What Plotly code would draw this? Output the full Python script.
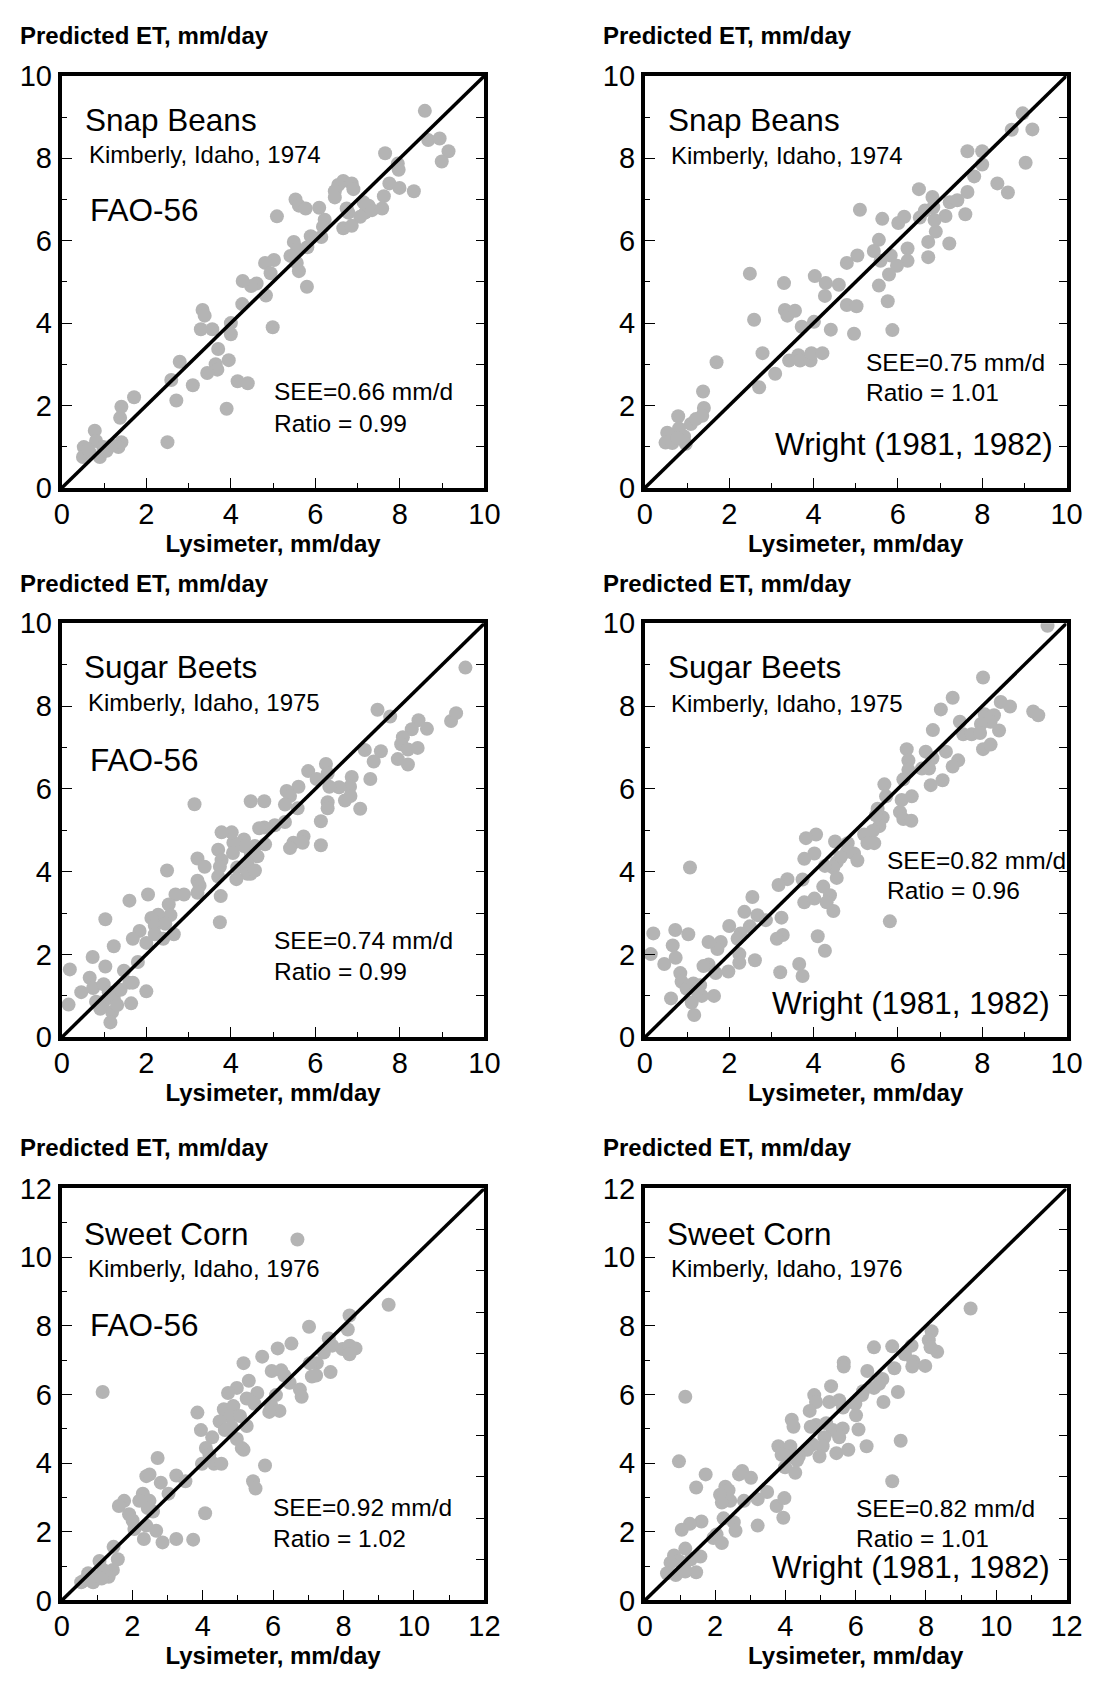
import plotly.graph_objects as go

FONT = "Liberation Sans"
GRAY = "#b4b4b4"

# ---------------- data (Lysimeter ET, Predicted ET), mm/day ----------------
snap_fao_x = [8.59, 8.67, 8.94, 9.15, 8.99, 7.65, 7.95, 7.97, 7.75, 7.99, 8.33, 7.62, 7.58, 7.34, 7.18, 7.06, 7.26, 7.14, 6.66, 6.54, 6.86, 6.90, 6.46, 6.46, 6.74, 6.78, 6.66, 6.86, 6.09, 6.22, 6.18, 6.14, 5.89, 5.81, 5.53, 5.61, 5.77, 5.09, 5.49, 5.57, 5.41, 5.56, 5.61, 5.80, 5.02, 4.81, 4.94, 4.83, 4.99, 4.61, 4.48, 4.28, 4.27, 4.00, 4.00, 3.95, 3.33, 3.38, 3.29, 3.56, 3.70, 3.64, 3.68, 3.44, 4.16, 4.40, 3.90, 2.79, 2.59, 3.10, 2.71, 2.50, 1.71, 1.41, 1.38, 1.41, 1.34, 0.78, 0.81, 0.52, 0.50, 0.66, 0.90, 1.06, 1.18, 0.62, 0.98]
snap_fao_y = [9.15, 8.44, 8.48, 8.17, 7.92, 8.12, 7.87, 7.72, 7.39, 7.28, 7.20, 7.08, 6.78, 6.74, 6.68, 6.58, 6.85, 6.93, 7.45, 7.35, 7.39, 7.25, 7.20, 7.05, 6.78, 6.68, 6.30, 6.36, 6.80, 6.51, 6.34, 6.09, 6.11, 5.84, 7.00, 6.85, 6.78, 6.59, 5.97, 5.80, 5.63, 5.46, 5.26, 4.88, 5.53, 5.46, 5.21, 4.67, 3.90, 4.96, 4.90, 5.02, 4.46, 4.00, 3.73, 3.10, 4.32, 4.18, 3.85, 3.85, 3.37, 3.00, 2.87, 2.79, 2.59, 2.54, 1.92, 3.06, 2.62, 2.49, 2.12, 1.11, 2.20, 1.97, 1.70, 1.11, 0.99, 1.39, 1.14, 0.99, 0.75, 0.86, 0.75, 0.90, 1.03, 0.95, 0.99]

snap_wr_x = [8.96, 8.70, 9.19, 9.03, 7.65, 8.00, 8.00, 7.81, 7.65, 7.60, 8.36, 8.61, 6.50, 6.82, 6.84, 7.23, 7.41, 7.13, 6.87, 6.90, 6.72, 6.72, 7.22, 6.64, 6.52, 6.15, 6.01, 6.23, 6.23, 5.98, 5.83, 5.79, 5.76, 5.87, 5.63, 5.10, 5.55, 5.43, 5.59, 5.55, 5.04, 4.79, 4.60, 4.29, 4.27, 4.03, 4.79, 5.02, 4.96, 4.41, 4.01, 3.72, 3.30, 3.32, 3.38, 3.56, 2.59, 2.49, 3.42, 3.64, 3.68, 3.93, 3.95, 4.21, 3.09, 2.79, 2.71, 1.70, 1.38, 1.40, 1.36, 1.09, 0.79, 0.81, 0.53, 0.49, 0.65, 0.93, 0.97, 0.77, 1.21]
snap_wr_y = [9.09, 8.69, 8.70, 7.89, 8.17, 8.17, 7.85, 7.56, 7.18, 6.64, 7.39, 7.17, 7.25, 7.06, 6.81, 6.93, 6.98, 6.60, 6.50, 6.22, 5.97, 5.60, 5.93, 6.73, 6.56, 6.58, 6.43, 5.81, 5.51, 5.39, 5.64, 5.18, 4.53, 3.83, 6.53, 6.75, 6.02, 5.75, 5.51, 4.91, 5.64, 5.46, 4.93, 4.97, 4.66, 5.14, 4.44, 4.41, 3.74, 3.84, 4.03, 3.91, 4.97, 4.32, 4.18, 4.30, 4.08, 5.20, 3.09, 3.22, 3.09, 3.09, 3.27, 3.27, 2.77, 3.27, 2.44, 3.05, 2.34, 1.94, 1.75, 1.55, 1.74, 1.44, 1.34, 1.10, 1.09, 1.25, 1.07, 1.21, 1.67]

beet_fao_x = [9.55, 7.47, 7.77, 9.21, 9.33, 8.44, 8.64, 8.28, 8.07, 8.03, 8.19, 8.42, 7.95, 8.19, 7.55, 7.17, 7.38, 7.30, 7.06, 6.86, 6.82, 6.83, 6.70, 6.56, 6.25, 6.29, 6.33, 6.29, 6.29, 6.13, 6.13, 5.83, 6.03, 5.60, 5.32, 5.40, 5.58, 5.28, 5.28, 5.04, 4.79, 4.67, 4.47, 4.79, 5.72, 5.48, 5.70, 5.40, 4.81, 4.57, 4.47, 4.63, 4.31, 4.31, 4.06, 4.02, 3.78, 3.70, 3.78, 3.74, 4.05, 4.15, 4.39, 4.47, 4.39, 4.57, 4.13, 3.70, 3.76, 3.74, 3.21, 3.38, 3.14, 3.21, 3.26, 3.21, 2.49, 2.89, 2.69, 2.04, 1.60, 2.53, 2.57, 2.28, 2.12, 2.20, 2.45, 2.65, 2.20, 2.40, 1.84, 1.68, 2.00, 1.23, 1.80, 1.03, 0.73, 1.03, 0.19, 0.66, 0.46, 0.74, 0.99, 1.11, 1.23, 1.47, 1.60, 1.39, 1.68, 2.00, 1.64, 0.81, 0.99, 1.19, 1.15, 0.16, 1.31, 0.91]
beet_fao_y = [8.93, 7.91, 7.75, 7.64, 7.83, 7.66, 7.45, 7.44, 7.25, 7.08, 6.95, 6.99, 6.72, 6.59, 6.91, 6.94, 6.66, 6.24, 5.52, 6.29, 6.05, 5.83, 5.72, 6.04, 6.60, 6.37, 6.05, 5.68, 5.53, 5.22, 4.64, 6.43, 6.24, 6.05, 5.95, 5.83, 5.53, 5.62, 5.20, 5.12, 5.07, 5.05, 5.70, 5.70, 4.85, 4.70, 4.70, 4.57, 4.66, 4.62, 4.45, 4.37, 4.78, 4.62, 4.70, 4.95, 4.95, 4.53, 4.28, 4.12, 4.45, 4.10, 4.20, 3.95, 3.95, 4.03, 3.82, 3.88, 3.41, 2.78, 4.32, 4.12, 5.63, 3.78, 3.66, 3.49, 4.03, 3.45, 3.45, 3.45, 3.30, 3.21, 2.95, 2.96, 2.88, 2.70, 2.74, 2.49, 2.49, 2.38, 2.57, 2.38, 2.28, 2.20, 1.82, 2.85, 1.94, 1.71, 1.64, 1.44, 1.09, 1.19, 1.28, 1.09, 0.94, 1.61, 1.32, 1.15, 1.32, 1.11, 0.82, 0.86, 0.86, 0.61, 0.36, 0.79, 0.78, 0.69]

beet_wr_x = [9.55, 8.02, 7.30, 7.02, 8.44, 8.66, 9.21, 9.33, 8.06, 8.28, 8.20, 8.40, 7.97, 7.47, 7.55, 7.75, 7.95, 6.83, 8.02, 8.20, 7.14, 6.66, 6.82, 7.43, 7.30, 6.74, 6.57, 6.21, 6.25, 6.25, 7.06, 6.78, 6.13, 6.09, 6.33, 6.05, 6.13, 6.32, 5.68, 5.72, 5.52, 5.64, 5.56, 5.40, 5.20, 5.28, 5.44, 5.48, 4.96, 5.04, 4.81, 4.79, 4.51, 4.64, 4.55, 4.47, 4.55, 4.27, 4.06, 3.82, 4.02, 3.78, 3.74, 4.23, 4.39, 4.31, 4.47, 3.78, 4.02, 4.10, 4.27, 5.81, 3.38, 3.17, 3.24, 3.27, 3.13, 2.87, 2.67, 2.55, 2.36, 2.49, 2.27, 2.00, 2.20, 2.24, 2.24, 2.61, 3.21, 3.66, 3.74, 1.98, 1.80, 1.72, 1.51, 1.51, 1.68, 1.39, 1.64, 1.35, 1.07, 0.72, 1.03, 0.20, 0.14, 0.46, 0.66, 0.73, 0.84, 0.87, 0.62, 0.99, 1.15, 1.23, 1.11, 1.17, 1.31]
beet_wr_y = [9.94, 8.69, 8.20, 7.92, 8.10, 7.99, 7.87, 7.78, 7.80, 7.78, 7.62, 7.41, 7.57, 7.62, 7.32, 7.32, 7.35, 7.42, 6.96, 7.07, 6.90, 6.90, 6.74, 6.69, 6.54, 6.49, 6.49, 6.96, 6.69, 6.46, 6.21, 6.09, 6.23, 5.73, 5.82, 5.44, 5.27, 5.23, 6.11, 5.82, 5.52, 5.31, 5.10, 4.98, 4.90, 4.69, 4.69, 5.36, 4.44, 4.27, 4.69, 4.48, 4.73, 4.35, 4.23, 4.10, 3.85, 4.14, 4.90, 4.81, 4.44, 4.31, 3.81, 3.64, 3.43, 3.26, 3.05, 3.26, 3.35, 2.44, 2.09, 2.80, 3.82, 3.68, 2.89, 2.47, 2.38, 2.83, 2.95, 3.39, 3.03, 2.68, 2.51, 2.69, 2.38, 2.01, 1.80, 1.86, 1.57, 1.77, 1.48, 1.59, 2.30, 2.13, 2.30, 1.76, 1.55, 1.72, 1.00, 1.00, 4.10, 2.59, 2.49, 2.51, 2.01, 1.77, 2.22, 1.92, 1.55, 1.34, 0.94, 1.17, 1.30, 1.13, 0.84, 0.54, 1.26]

corn_fao_x = [6.69, 1.16, 9.28, 8.17, 8.12, 7.02, 6.52, 6.13, 5.69, 5.16, 7.58, 7.68, 7.97, 8.17, 8.34, 8.17, 7.44, 7.24, 7.04, 7.63, 7.10, 7.22, 5.96, 6.23, 6.32, 6.47, 6.76, 6.81, 5.31, 4.97, 4.72, 5.55, 5.25, 5.47, 6.08, 5.94, 6.18, 5.89, 4.60, 4.87, 4.77, 4.48, 5.06, 5.25, 4.82, 4.63, 4.97, 5.11, 5.16, 3.85, 3.95, 4.27, 4.09, 4.19, 3.98, 4.32, 4.53, 5.77, 5.43, 5.50, 2.72, 2.40, 2.49, 2.81, 3.25, 3.51, 3.03, 2.30, 2.49, 2.20, 2.44, 2.59, 1.77, 1.62, 1.91, 2.01, 2.06, 2.40, 2.68, 2.33, 2.86, 3.25, 3.73, 4.07, 1.47, 1.59, 1.45, 1.07, 1.18, 1.33, 0.99, 0.75, 0.65, 0.89, 1.13, 0.55]
corn_fao_y = [10.51, 6.07, 8.61, 8.30, 7.89, 7.97, 7.48, 7.34, 7.10, 6.91, 7.63, 7.42, 7.32, 7.42, 7.34, 7.17, 7.22, 6.91, 6.91, 6.65, 6.52, 6.55, 6.68, 6.70, 6.55, 6.34, 6.14, 5.93, 6.40, 6.19, 6.04, 6.04, 5.88, 5.73, 5.98, 5.70, 5.52, 5.49, 5.57, 5.66, 5.37, 5.21, 5.37, 5.08, 5.06, 4.96, 4.70, 4.44, 4.39, 5.47, 4.96, 4.75, 4.44, 4.24, 3.98, 3.98, 3.98, 3.93, 3.47, 3.26, 4.15, 3.62, 3.67, 3.43, 3.64, 3.47, 3.11, 3.11, 2.90, 2.90, 2.69, 2.59, 2.90, 2.75, 2.51, 2.33, 2.08, 2.18, 2.03, 1.79, 1.69, 1.79, 1.77, 2.54, 1.56, 1.20, 0.89, 1.15, 0.89, 0.69, 0.69, 0.79, 0.59, 0.53, 0.64, 0.53]

corn_wr_x = [9.27, 1.15, 0.97, 8.16, 8.08, 8.32, 8.13, 7.59, 7.40, 7.64, 7.61, 7.98, 7.04, 6.52, 7.10, 5.66, 5.66, 6.33, 6.76, 6.67, 6.52, 6.21, 7.20, 6.79, 6.18, 5.99, 6.01, 6.08, 6.31, 7.28, 7.04, 5.30, 4.82, 4.87, 4.69, 5.25, 5.53, 5.64, 5.16, 4.87, 4.72, 5.35, 5.63, 5.53, 5.11, 5.06, 4.77, 4.62, 4.97, 5.45, 5.79, 4.18, 4.23, 3.80, 4.14, 3.89, 4.09, 4.38, 4.33, 3.99, 4.28, 1.73, 1.46, 2.68, 2.77, 3.02, 2.29, 2.38, 2.14, 2.43, 2.19, 2.82, 3.21, 3.48, 3.75, 3.97, 3.94, 2.24, 2.53, 2.58, 2.04, 1.95, 2.19, 3.21, 1.61, 1.28, 1.05, 1.15, 0.83, 0.97, 0.73, 0.63, 0.88, 1.12, 1.31, 1.58, 1.46, 1.15]
corn_wr_y = [8.50, 5.93, 4.05, 7.84, 7.58, 7.24, 7.37, 7.42, 7.17, 6.96, 6.81, 6.83, 7.40, 7.37, 6.76, 6.93, 6.81, 6.68, 6.45, 6.31, 6.19, 6.09, 6.07, 5.78, 5.98, 5.73, 5.39, 4.98, 4.49, 4.65, 3.47, 6.24, 5.98, 5.78, 5.52, 5.78, 5.83, 5.62, 5.16, 5.11, 5.06, 4.96, 5.01, 4.75, 4.75, 4.49, 4.54, 4.39, 4.19, 4.29, 4.39, 5.26, 5.06, 4.49, 4.49, 4.24, 4.19, 4.19, 4.08, 3.88, 3.72, 3.67, 3.29, 3.67, 3.77, 3.57, 3.31, 3.21, 3.08, 2.90, 2.85, 2.90, 2.95, 3.16, 2.75, 2.98, 2.41, 2.39, 2.28, 2.03, 1.92, 1.82, 1.67, 2.18, 2.30, 2.23, 2.06, 1.51, 1.31, 1.15, 1.10, 0.79, 0.74, 0.95, 1.20, 1.28, 0.82, 0.84]

# axis maxima and labels
axis_max = [10, 10, 10, 10, 12, 12]
crops = ["Snap Beans", "Snap Beans", "Sugar Beets", "Sugar Beets", "Sweet Corn", "Sweet Corn"]
sites = ["Kimberly, Idaho, 1974", "Kimberly, Idaho, 1974", "Kimberly, Idaho, 1975",
         "Kimberly, Idaho, 1975", "Kimberly, Idaho, 1976", "Kimberly, Idaho, 1976"]
methods = ["FAO-56", "Wright (1981, 1982)", "FAO-56", "Wright (1981, 1982)", "FAO-56", "Wright (1981, 1982)"]
see_text = ["SEE=0.66 mm/d", "SEE=0.75 mm/d", "SEE=0.74 mm/d", "SEE=0.82 mm/d", "SEE=0.92 mm/d", "SEE=0.82 mm/d"]
ratio_text = ["Ratio = 0.99", "Ratio = 1.01", "Ratio = 0.99", "Ratio = 0.96", "Ratio = 1.02", "Ratio = 1.01"]
xs = [snap_fao_x, snap_wr_x, beet_fao_x, beet_wr_x, corn_fao_x, corn_wr_x]
ys = [snap_fao_y, snap_wr_y, beet_fao_y, beet_wr_y, corn_fao_y, corn_wr_y]
x_title = "Lysimeter, mm/day"
y_title = "Predicted ET, mm/day"

# ---------------- layout / style ----------------
W, H = 1106, 1691
xdom = [[0.04973, 0.44033], [0.58861, 0.97830]]
ydom = [[0.71555, 0.96393], [0.38439, 0.63394], [0.04494, 0.29332]]
# annotation anchor positions in data units: crop, site, method, see, ratio
text_pos = [
    dict(crop=(0.50, 8.93), site=(0.60, 8.09), method=(0.62, 6.75), see=(4.97, 2.35), ratio=(4.97, 1.56)),
    dict(crop=(0.49, 8.93), site=(0.58, 8.07), method=(9.72, 1.06), see=(5.20, 3.05), ratio=(5.20, 2.31)),
    dict(crop=(0.48, 8.94), site=(0.58, 8.08), method=(0.61, 6.71), see=(4.97, 2.35), ratio=(4.97, 1.59)),
    dict(crop=(0.49, 8.94), site=(0.58, 8.07), method=(9.65, 0.84), see=(5.70, 4.28), ratio=(5.70, 3.54)),
    dict(crop=(0.58, 10.68), site=(0.70, 9.68), method=(0.73, 8.03), see=(5.95, 2.71), ratio=(5.95, 1.81)),
    dict(crop=(0.57, 10.68), site=(0.69, 9.68), method=(11.58, 0.97), see=(5.96, 2.69), ratio=(5.96, 1.79)),
]
ytitle_px = [20, 578.5, 1153.5]
ytitle_x_px = [10, 606]

fig = go.Figure()
annotations = []
layout = dict(width=W, height=H, margin=dict(l=0, r=0, t=0, b=0), autosize=False,
              paper_bgcolor="white", plot_bgcolor="white", showlegend=False,
              font=dict(family=FONT, color="black"))

for i in range(6):
    n = i + 1
    row, col = divmod(i, 2)
    xa = "x" if n == 1 else f"x{n}"
    ya = "y" if n == 1 else f"y{n}"
    yr = f"y{n + 6}"
    vmax = axis_max[i]
    diag = [0, vmax]

    fig.add_trace(go.Scatter(x=xs[i], y=ys[i], mode="markers", xaxis=xa, yaxis=ya,
                             marker=dict(size=14, color=GRAY, line=dict(width=0)),
                             hoverinfo="skip"))
    fig.add_trace(go.Scatter(x=diag, y=diag, mode="lines", xaxis=xa, yaxis=ya,
                             line=dict(color="black", width=3.5), hoverinfo="skip"))
    fig.add_trace(go.Scatter(x=[], y=[], mode="markers", xaxis=xa, yaxis=yr, hoverinfo="skip"))

    common = dict(range=[0, vmax], tick0=0, dtick=2, ticks="inside", ticklen=10, tickwidth=1.2,
                  tickcolor="black", showline=True, linewidth=4, linecolor="black", mirror=True,
                  showgrid=False, zeroline=False, fixedrange=True,
                  minor=dict(tick0=0, dtick=1, ticks="inside", ticklen=5, tickwidth=1.2,
                             tickcolor="black", showgrid=False),
                  tickfont=dict(family=FONT, size=29, color="black"))
    layout["xaxis" if n == 1 else f"xaxis{n}"] = dict(
        common, domain=xdom[col], anchor=ya, ticklabelstandoff=-3,
        title=dict(text=f"<b>{x_title}</b>", font=dict(family=FONT, size=24, color="black"), standoff=4))
    layout["yaxis" if n == 1 else f"yaxis{n}"] = dict(
        common, domain=ydom[row], anchor=xa, ticklabelstandoff=0)
    layout[f"yaxis{n + 6}"] = dict(
        overlaying=ya, side="right", anchor=xa, range=[0, vmax], tick0=0,
        dtick=1 if vmax == 10 else 1.2, ticks="inside", ticklen=8, tickwidth=1.2,
        tickcolor="black", showticklabels=False, showline=False, showgrid=False,
        zeroline=False, fixedrange=True)

    tp = text_pos[i]
    def ann(txt, xy, size, xanchor="left"):
        annotations.append(dict(text=txt, x=xy[0], y=xy[1], xref=xa, yref=ya,
                                xanchor=xanchor, yanchor="middle", showarrow=False,
                                font=dict(family=FONT, size=size, color="black")))
    ann(crops[i], tp["crop"], 31.5)
    ann(sites[i], tp["site"], 24)
    if methods[i] == "FAO-56":
        ann(methods[i], tp["method"], 31.5)
    else:
        ann(methods[i], tp["method"], 31.5, xanchor="right")
    ann(see_text[i], tp["see"], 24.5)
    ann(ratio_text[i], tp["ratio"], 24.5)

    annotations.append(dict(text=f"<b>{y_title}</b>", xref="paper", yref="paper",
                            x=ytitle_x_px[col] / W, y=1 - ytitle_px[row] / H,
                            xanchor="left", yanchor="middle", showarrow=False,
                            font=dict(family=FONT, size=24, color="black")))

layout["annotations"] = annotations
fig.update_layout(**layout)
fig.write_html("out.html", config={"displayModeBar": False},
               post_script="document.body.style.margin='0';"
                           "document.documentElement.style.overflow='hidden';")
